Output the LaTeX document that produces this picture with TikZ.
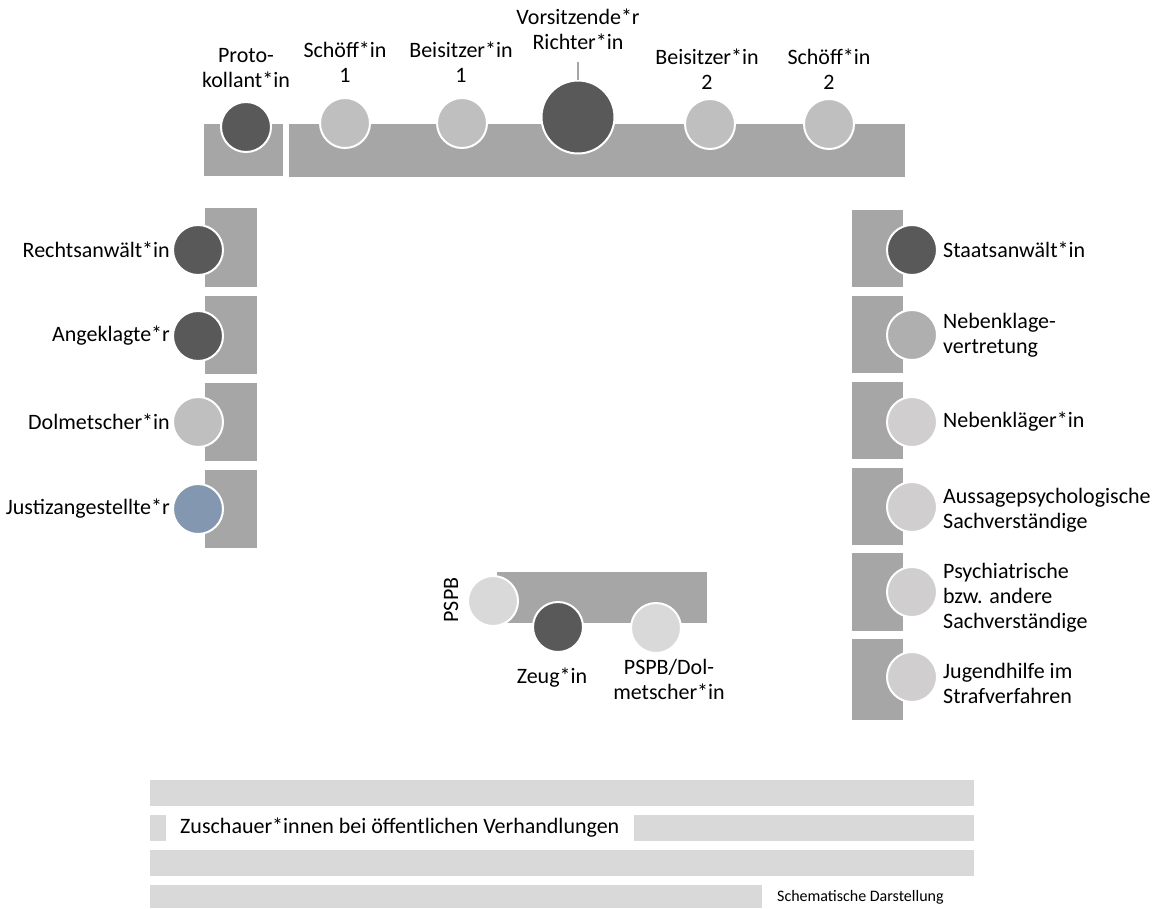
\documentclass[tikz,border=0pt]{standalone}
\usepackage{fontspec}
\setmainfont{Carlito}
\usepackage{tikz}
\definecolor{bench}{HTML}{A6A6A6}
\definecolor{dark}{HTML}{595959}
\definecolor{mid}{HTML}{BFBFBF}
\definecolor{midtwo}{HTML}{AFAFAF}
\definecolor{light}{HTML}{D0CECE}
\definecolor{pale}{HTML}{D9D9D9}
\definecolor{steel}{HTML}{8497B0}

\begin{document}
\begin{tikzpicture}[x=1pt,y=-1pt,
seat/.style={circle, draw=white, line width=2pt, minimum size=50pt, inner sep=0pt},
lbl/.style={font=\fontsize{22}{25}\selectfont, align=center, inner sep=0pt, text=black}]
\useasboundingbox (0,0) rectangle (1154,908);

\fill[bench] (204,124) rectangle (283,176);
\fill[bench] (289,124) rectangle (905,177);

\fill[bench] (205,208) rectangle (257,287);
\fill[bench] (205,296) rectangle (257,374);
\fill[bench] (205,383) rectangle (257,461);
\fill[bench] (205,470) rectangle (257,548);

\fill[bench] (852,210) rectangle (903,287);
\fill[bench] (852,296) rectangle (903,373);
\fill[bench] (852,382) rectangle (903,459);
\fill[bench] (852,468) rectangle (903,545);
\fill[bench] (852,553) rectangle (903,631);
\fill[bench] (852,639) rectangle (903,720);

\fill[bench] (497,572) rectangle (707,623);

\fill[pale] (150,780) rectangle (974,806);
\fill[pale] (150,815) rectangle (166,841);
\fill[pale] (634,815) rectangle (974,841);
\fill[pale] (150,850) rectangle (974,876);
\fill[pale] (150,885) rectangle (762,908);

\node[seat, fill=dark] (prot) at (246,127) {};
\node[seat, fill=mid] (schoeffa) at (345,123) {};
\node[seat, fill=mid] (beisa) at (462,123) {};
\node[seat, fill=dark, minimum size=73pt] (vors) at (578,117) {};
\node[seat, fill=mid] (beisb) at (710,124) {};
\node[seat, fill=mid] (schoeffb) at (829,124) {};

\node[seat, fill=dark] (anwalt) at (198,250) {};
\node[seat, fill=dark] (angekl) at (198,336) {};
\node[seat, fill=mid] (dolm) at (198,422) {};
\node[seat, fill=steel] (justiz) at (198,509) {};

\node[seat, fill=dark] (staat) at (912,250) {};
\node[seat, fill=midtwo] (nkvert) at (912,335) {};
\node[seat, fill=light] (nkl) at (912,422) {};
\node[seat, fill=light] (aussage) at (912,507) {};
\node[seat, fill=light] (psych) at (912,592) {};
\node[seat, fill=light] (jugend) at (912,677) {};

\node[seat, fill=pale] (pspb) at (493,601) {};
\node[seat, fill=dark] (zeuge) at (558,627) {};
\node[seat, fill=pale] (pspbdol) at (656,628) {};

\coordinate (tick) at (578,62);
\draw[bench, line width=2pt] (tick) -- (vors.north);

\node[lbl] (protl) at (246,68) {Proto-\\kollant*in};
\node[lbl] (schoeffal) at (345,62) {Schöff*in\\1};
\node[lbl] (beisal) at (461,62) {Beisitzer*in\\1};
\node[lbl] (vorsl) at (578,29) {Vorsitzende*r\\Richter*in};
\node[lbl] (beisbl) at (707,69) {Beisitzer*in\\2};
\node[lbl] (schoeffbl) at (829,69) {Schöff*in\\2};

\node[lbl, anchor=east] (anwaltl) at (170,250) {Rechtsanwält*in};
\node[lbl, anchor=east] (angekll) at (170,336) {Angeklagte*r};
\node[lbl, anchor=east] (dolml) at (170,422) {Dolmetscher*in};
\node[lbl, anchor=east] (justizl) at (170,509) {Justizangestellte*r};

\node[lbl, anchor=west, align=left] (staatl) at (943,250) {Staatsanwält*in};
\node[lbl, anchor=west, align=left] (nkvertl) at (943,335) {Nebenklage-\\vertretung};
\node[lbl, anchor=west, align=left] (nkll) at (943,422) {Nebenkläger*in};
\node[lbl, anchor=west, align=left] (aussagel) at (943,510) {Aussagepsychologische\\Sachverständige};
\node[lbl, anchor=west, align=left] (psychl) at (943,598) {Psychiatrische\\bzw. andere\\Sachverständige};
\node[lbl, anchor=west, align=left] (jugendl) at (943,683) {Jugendhilfe im\\Strafverfahren};

\node[lbl, rotate=90] (pspbl) at (451,600) {PSPB};
\node[lbl] (zeugel) at (552,678) {Zeug*in};
\node[lbl] (pspbdoll) at (669,679) {PSPB/Dol-\\metscher*in};

\node[lbl, anchor=west] (zuschl) at (180,828) {Zuschauer*innen bei öffentlichen Verhandlungen};
\node[lbl, anchor=west, font=\fontsize{16}{18}\selectfont] (schemal) at (777,897) {Schematische Darstellung};
\end{tikzpicture}
\end{document}
